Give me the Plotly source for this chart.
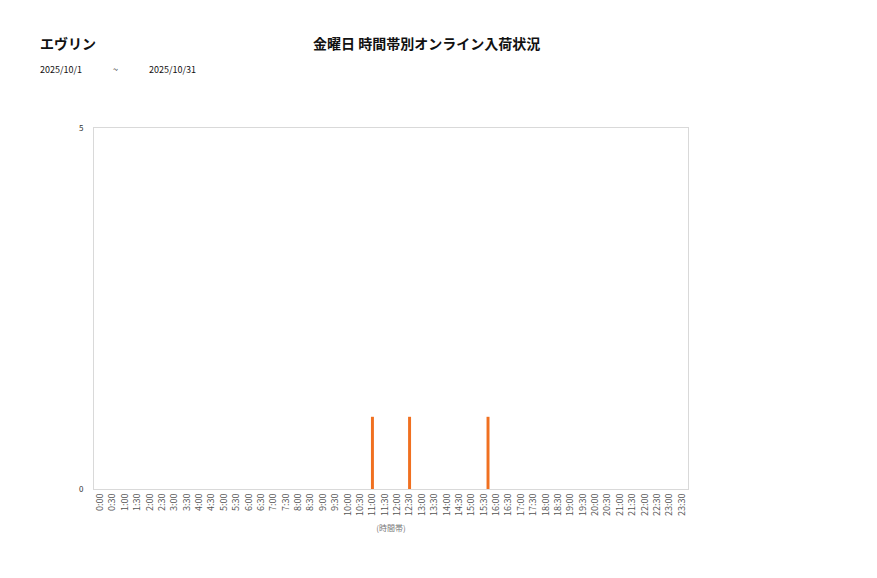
import plotly.graph_objects as go

# time slots (labels every 30 minutes)
slot_labels = [f"{h}:{m:02d}" for h in range(24) for m in (0, 30)]
slot_hours = [h + m / 60 for h in range(24) for m in (0, 30)]

# arrivals (hour of day, count)
arrival_hours = [11.0, 12.5, 15.67]
arrival_counts = [1, 1, 1]

font_jp = "Noto Sans CJK JP"

# page body adds 8px, so margins are shifted
W, H = 877, 578
ML, MR, MT, MB = 86, 197, 120, 97

fig = go.Figure()

fig.add_trace(go.Bar(
    x=arrival_hours,
    y=arrival_counts,
    width=0.12,
    marker_color="#F07020",
    marker_line_width=0,
))

fig.update_layout(
    width=W,
    height=H,
    margin=dict(l=ML, r=MR, t=MT, b=MB),
    paper_bgcolor="white",
    plot_bgcolor="white",
    showlegend=False,
    font=dict(family=font_jp, size=9, color="#333333"),
)

fig.update_xaxes(
    range=[-0.25, 23.75],
    tickvals=slot_hours,
    ticktext=slot_labels,
    tickangle=-90,
    tickfont=dict(size=9, color="#555555"),
    showgrid=False,
    zeroline=False,
    showline=True,
    linecolor="#D9D9D9",
    linewidth=1,
    mirror=True,
    ticks="",
    title=dict(text="(時間帯)", font=dict(size=8, color="#777777"), standoff=10),
)

fig.update_yaxes(
    range=[0, 5],
    tickvals=[0, 5],
    tickfont=dict(size=8, color="#333333"),
    showgrid=False,
    zeroline=False,
    showline=True,
    linecolor="#D9D9D9",
    linewidth=1,
    mirror=True,
    ticks="",
    ticklabelstandoff=8,
)

# header texts (page pixel positions)
annos = []
for txt, xpos, ypos, size, anchor in [
    ("<b>エヴリン</b>", 38, 43, 14, "left"),
    ("<b>金曜日 時間帯別オンライン入荷状況</b>", 427, 43, 14, "center"),
    ("2025/10/1", 38, 70, 9, "left"),
    ("~", 115, 70, 9, "center"),
    ("2025/10/31", 147, 70, 9, "left"),
]:
    annos.append(dict(
        text=txt,
        x=(xpos - 8 - ML) / (W - ML - MR),
        y=1 + (MT - (ypos - 8)) / (H - MT - MB),
        xref="paper", yref="paper",
        xanchor=anchor, yanchor="middle",
        showarrow=False,
        font=dict(family=font_jp, size=size, color="#111111"),
    ))
fig.layout.annotations = annos

fig.write_html("out.html")
